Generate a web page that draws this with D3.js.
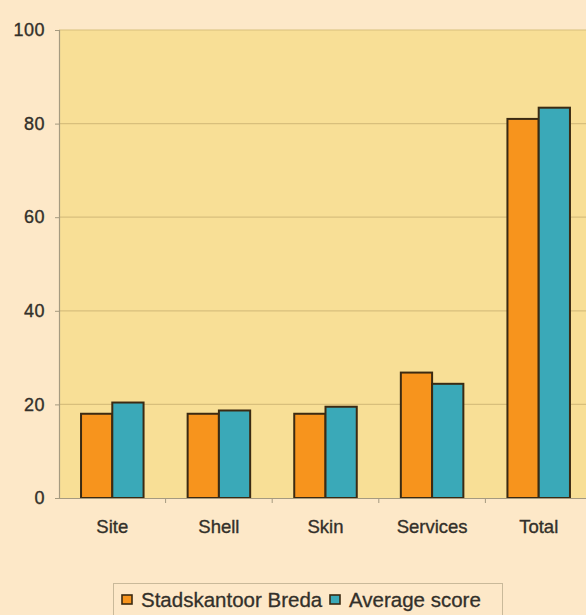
<!DOCTYPE html>
<html>
<head>
<meta charset="utf-8">
<script src="https://cdn.jsdelivr.net/npm/d3@7/dist/d3.min.js"></script>
<style>
  html, body { margin: 0; padding: 0; background: #fde8c8; }
  svg { display: block; }
</style>
</head>
<body>
<svg id="chart" width="586" height="615"></svg>
<script>
// Scores per building aspect
const categories = ["Site", "Shell", "Skin", "Services", "Total"];
const seriesNames = ["Stadskantoor Breda", "Average score"];
const stadskantoor = [18, 18, 18, 26.8, 81];
const average = [20.4, 18.7, 19.5, 24.4, 83.4];
const yTicks = [0, 20, 40, 60, 80, 100];

const colors = ["#f7941d", "#3aa9b8"];
const textColor = "#33302a";
const font = "Liberation Sans, Arial, sans-serif";

const svg = d3.select("#chart");
const W = 586, H = 615;
const margin = { left: 59, top: 30, bottom: 117 };
const plotRight = 592;

svg.append("rect").attr("width", W).attr("height", H).attr("fill", "#fde8c8");

const x = d3.scaleBand().domain(categories).range([margin.left, plotRight]).paddingInner(0).paddingOuter(0);
const y = d3.scaleLinear().domain([0, 100]).range([H - margin.bottom, margin.top]);
const xs = d3.scaleBand().domain(seriesNames).range([0, x.bandwidth()]).paddingInner(0).paddingOuter(0.705);

// plot background
svg.append("rect")
  .attr("x", margin.left).attr("y", y(100))
  .attr("width", plotRight - margin.left).attr("height", y(0) - y(100))
  .attr("fill", "#f8df96");

// gridlines
svg.append("g").selectAll("line").data(yTicks.filter(d => d > 0)).join("line")
  .attr("x1", margin.left).attr("x2", plotRight)
  .attr("y1", d => y(d)).attr("y2", d => y(d))
  .attr("stroke", "#d8bf7c").attr("stroke-width", 1.2);

// bars
const data = categories.map((c, i) => ({ cat: c, vals: [stadskantoor[i], average[i]] }));
const groups = svg.append("g").selectAll("g").data(data).join("g")
  .attr("transform", d => `translate(${x(d.cat)},0)`);
groups.selectAll("rect").data(d => d.vals.map((v, j) => ({ v, s: seriesNames[j], j }))).join("rect")
  .attr("x", d => xs(d.s))
  .attr("y", d => y(d.v))
  .attr("width", xs.bandwidth())
  .attr("height", d => y(0) - y(d.v))
  .attr("fill", d => colors[d.j])
  .attr("stroke", "#3b2a12")
  .attr("stroke-width", 2);

// y axis
const yAxis = svg.append("g").attr("transform", `translate(${margin.left},0)`)
  .call(d3.axisLeft(y).tickValues(yTicks).tickSize(4).tickPadding(10).tickFormat(d3.format("d")));
yAxis.select(".domain").attr("stroke", "#a59a80").attr("stroke-width", 1.2);
yAxis.selectAll(".tick line").attr("stroke", "#a59a80");
yAxis.selectAll("text").attr("font-family", font)
  .attr("font-size", 18).attr("fill", textColor)
  .attr("stroke", textColor).attr("stroke-width", 0.35)
  .attr("letter-spacing", 0.5);

// x axis
const xAxis = svg.append("g").attr("transform", `translate(0,${y(0)})`)
  .call(d3.axisBottom(x).tickSize(0).tickPadding(22));
xAxis.select(".domain").attr("stroke", "#a59a80").attr("stroke-width", 1.2);
xAxis.selectAll("text").attr("font-family", font)
  .attr("font-size", 18.5).attr("fill", textColor)
  .attr("stroke", textColor).attr("stroke-width", 0.35);
// small dividers between categories
svg.append("g").selectAll("line").data(categories.slice(1)).join("line")
  .attr("x1", d => x(d)).attr("x2", d => x(d))
  .attr("y1", y(0)).attr("y2", y(0) + 5)
  .attr("stroke", "#a59a80").attr("stroke-width", 1);

// legend
const legend = svg.append("g");
legend.append("rect").attr("x", 113.5).attr("y", 583.5).attr("width", 389).attr("height", 40)
  .attr("fill", "#fde8c8").attr("stroke", "#c9b99a").attr("stroke-width", 1);
const items = [
  { name: seriesNames[0], color: colors[0], x: 122 },
  { name: seriesNames[1], color: colors[1], x: 330 }
];
items.forEach(it => {
  legend.append("rect").attr("x", it.x).attr("y", 595).attr("width", 10).attr("height", 9)
    .attr("fill", it.color).attr("stroke", "#3b2a12").attr("stroke-width", 1.6);
  legend.append("text").attr("x", it.x + 19).attr("y", 607)
    .attr("font-family", font).attr("font-size", 20.5)
    .attr("fill", textColor).attr("stroke", textColor).attr("stroke-width", 0.3)
    .text(it.name);
});
</script>
</body>
</html>
